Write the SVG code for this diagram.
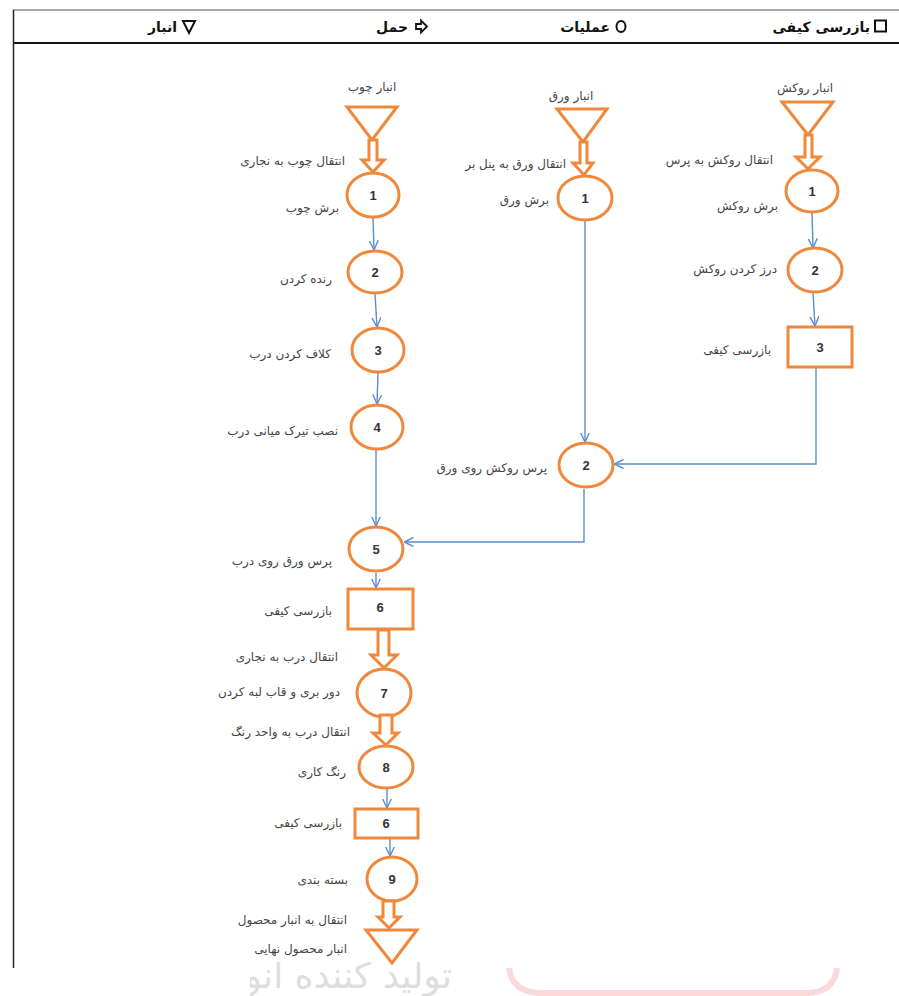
<svg xmlns="http://www.w3.org/2000/svg" width="899" height="996" viewBox="0 0 899 996">
<style>
.bg{fill:#ffffff}
.hd{font-family:"DejaVu Sans","Noto Sans",sans-serif;font-size:14px;font-weight:bold;fill:#111}
.lbl{font-family:"DejaVu Sans","Noto Sans",sans-serif;font-size:12px;fill:#444}
.num{font-family:"Liberation Sans","DejaVu Sans",sans-serif;font-size:13px;font-weight:bold;fill:#333;text-anchor:middle}
.op{fill:#fff;stroke:#F0883C;stroke-width:3}
.con{fill:none;stroke:#5B8DD3;stroke-width:1.4}
.wm{font-family:"DejaVu Sans","Noto Sans",sans-serif;font-size:36px;fill:#dedede}
</style>
<defs>
<marker id="ah" viewBox="0 0 10 10" refX="9.5" refY="5" markerWidth="10" markerHeight="10" markerUnits="userSpaceOnUse" orient="auto">
<path d="M0,0.5 L9.5,5 L0,9.5" fill="none" stroke="#5B8DD3" stroke-width="1.4"/>
</marker>
<clipPath id="wmclip"><rect x="250" y="962" width="210" height="34"/></clipPath>
</defs>
<rect class="bg" x="0" y="0" width="899" height="996"/>

<!-- watermark remnants -->
<g id="watermark">
<g clip-path="url(#wmclip)">
<text class="wm" x="452" y="988" text-anchor="end">تولید کننده انواع پروفیل</text>
</g>
<path d="M509 968 Q512 993 542 993 L806 993 Q834 993 837 968" fill="none" stroke="#FCD9D9" stroke-width="6"/>
</g>

<!-- header -->
<g id="header">
<line x1="13" y1="10" x2="899" y2="10" stroke="#555" stroke-width="1.2"/>
<line x1="13" y1="43" x2="899" y2="43" stroke="#111" stroke-width="2"/>
<line x1="13.5" y1="10" x2="13.5" y2="968" stroke="#222" stroke-width="1.5"/>
<text class="hd" x="177" y="32" text-anchor="end">انبار</text>
<path d="M183 21 L195 21 L189 33 Z" fill="none" stroke="#111" stroke-width="2"/>
<text class="hd" x="408" y="32" text-anchor="end">حمل</text>
<path d="M416 24 L421 24 L421 20.5 L427 26.5 L421 32.5 L421 29 L416 29 Z" fill="none" stroke="#111" stroke-width="1.8"/>
<text class="hd" x="610" y="32" text-anchor="end">عملیات</text>
<ellipse cx="621" cy="26.5" rx="4.5" ry="5.5" fill="none" stroke="#111" stroke-width="2"/>
<text class="hd" x="870" y="32" text-anchor="end">بازرسی کیفی</text>
<rect x="875" y="20.5" width="11" height="11" fill="none" stroke="#111" stroke-width="2"/>
</g>

<!-- connectors -->
<g id="connectors">
<line class="con" x1="373" y1="218" x2="374" y2="250" marker-end="url(#ah)"/>
<line class="con" x1="375" y1="294" x2="377" y2="327" marker-end="url(#ah)"/>
<line class="con" x1="378" y1="373" x2="377" y2="404" marker-end="url(#ah)"/>
<line class="con" x1="376" y1="450" x2="376" y2="526" marker-end="url(#ah)"/>
<line class="con" x1="585" y1="221" x2="585" y2="442" marker-end="url(#ah)"/>
<line class="con" x1="812" y1="213" x2="813" y2="248" marker-end="url(#ah)"/>
<line class="con" x1="813" y1="293" x2="815" y2="326" marker-end="url(#ah)"/>
<polyline class="con" points="816,368 816,464 614,464" marker-end="url(#ah)"/>
<polyline class="con" points="584,489 584,542 404,542" marker-end="url(#ah)"/>
<line class="con" x1="376" y1="573" x2="376" y2="588" marker-end="url(#ah)"/>
<line class="con" x1="387" y1="789" x2="387" y2="808" marker-end="url(#ah)"/>
<line class="con" x1="390" y1="839" x2="390" y2="856" marker-end="url(#ah)"/>
</g>

<!-- wood column -->
<g id="wood-store">
<text class="lbl" x="372" y="91" text-anchor="middle">انبار چوب</text>
<polygon class="op" points="347,107 397,107 372,140"/>
</g>
<g id="wood-move">
<path class="op" d="M369 140 L377 140 L377 160 L384 160 L373 172 L362 160 L369 160 Z"/>
<text class="lbl" x="345" y="165" text-anchor="end">انتقال چوب به نجاری</text>
</g>
<g id="wood-op1">
<ellipse class="op" cx="373" cy="195" rx="26" ry="22"/>
<text class="num" x="373" y="200">1</text>
<text class="lbl" x="339" y="212" text-anchor="end">برش چوب</text>
</g>
<g id="wood-op2">
<ellipse class="op" cx="375" cy="272" rx="27" ry="21"/>
<text class="num" x="375" y="277">2</text>
<text class="lbl" x="332" y="283" text-anchor="end">رنده کردن</text>
</g>
<g id="wood-op3">
<ellipse class="op" cx="378" cy="350" rx="26" ry="22"/>
<text class="num" x="378" y="355">3</text>
<text class="lbl" x="331" y="358" text-anchor="end">کلاف کردن درب</text>
</g>
<g id="wood-op4">
<ellipse class="op" cx="377" cy="427" rx="26" ry="22"/>
<text class="num" x="377" y="432">4</text>
<text class="lbl" x="338" y="435" text-anchor="end">نصب تیرک میانی درب</text>
</g>

<!-- sheet column -->
<g id="sheet-store">
<text class="lbl" x="571" y="100" text-anchor="middle">انبار ورق</text>
<polygon class="op" points="557,109 607,109 583,142"/>
</g>
<g id="sheet-move">
<path class="op" d="M580 142 L587 142 L587 163 L593 163 L584 175 L573 163 L580 163 Z"/>
<text class="lbl" x="566" y="168" text-anchor="end">انتقال ورق به پنل بر</text>
</g>
<g id="sheet-op1">
<ellipse class="op" cx="585" cy="198" rx="27" ry="22"/>
<text class="num" x="585" y="203">1</text>
<text class="lbl" x="549" y="204" text-anchor="end">برش ورق</text>
</g>
<g id="sheet-op2">
<ellipse class="op" cx="586" cy="465" rx="27" ry="22"/>
<text class="num" x="586" y="470">2</text>
<text class="lbl" x="547" y="472" text-anchor="end">پرس روکش روی ورق</text>
</g>

<!-- veneer column -->
<g id="veneer-store">
<text class="lbl" x="805" y="92" text-anchor="middle">انبار روکش</text>
<polygon class="op" points="782,102 833,102 808,135"/>
</g>
<g id="veneer-move">
<path class="op" d="M805 135 L812 135 L812 157 L820 157 L808 169 L796 157 L805 157 Z"/>
<text class="lbl" x="773" y="164" text-anchor="end">انتقال روکش به پرس</text>
</g>
<g id="veneer-op1">
<ellipse class="op" cx="812" cy="191" rx="26" ry="21"/>
<text class="num" x="812" y="196">1</text>
<text class="lbl" x="778" y="210" text-anchor="end">برش روکش</text>
</g>
<g id="veneer-op2">
<ellipse class="op" cx="815" cy="270" rx="27" ry="22"/>
<text class="num" x="815" y="275">2</text>
<text class="lbl" x="777" y="273" text-anchor="end">درز کردن روکش</text>
</g>
<g id="veneer-insp3">
<rect class="op" x="788" y="327" width="64" height="40"/>
<text class="num" x="820" y="352">3</text>
<text class="lbl" x="771" y="354" text-anchor="end">بازرسی کیفی</text>
</g>

<!-- door assembly -->
<g id="door-op5">
<ellipse class="op" cx="376" cy="549" rx="27" ry="22"/>
<text class="num" x="376" y="554">5</text>
<text class="lbl" x="332" y="565" text-anchor="end">پرس ورق روی درب</text>
</g>
<g id="door-insp6">
<rect class="op" x="348" y="589" width="65" height="40"/>
<text class="num" x="380" y="612">6</text>
<text class="lbl" x="332" y="615" text-anchor="end">بازرسی کیفی</text>
</g>
<g id="door-move1">
<path class="op" d="M378 630 L389 630 L389 655 L397 655 L384 668 L371 655 L378 655 Z"/>
<text class="lbl" x="338" y="661" text-anchor="end">انتقال درب به نجاری</text>
</g>
<g id="door-op7">
<ellipse class="op" cx="384" cy="693" rx="27" ry="24"/>
<text class="num" x="384" y="698">7</text>
<text class="lbl" x="340" y="696" text-anchor="end">دور بری و قاب لبه کردن</text>
</g>
<g id="door-move2">
<path class="op" d="M380 715 L392 715 L392 733 L398 733 L386 745 L373 733 L380 733 Z"/>
<text class="lbl" x="350" y="736" text-anchor="end">انتقال درب به واحد رنگ</text>
</g>
<g id="door-op8">
<ellipse class="op" cx="386" cy="767" rx="27" ry="21"/>
<text class="num" x="386" y="772">8</text>
<text class="lbl" x="346" y="776" text-anchor="end">رنگ کاری</text>
</g>
<g id="door-insp6b">
<rect class="op" x="355" y="809" width="63" height="29"/>
<text class="num" x="386" y="828">6</text>
<text class="lbl" x="342" y="827" text-anchor="end">بازرسی کیفی</text>
</g>
<g id="door-op9">
<ellipse class="op" cx="392" cy="879" rx="25" ry="22"/>
<text class="num" x="392" y="884">9</text>
<text class="lbl" x="348" y="884" text-anchor="end">بسته بندی</text>
</g>
<g id="door-move3">
<path class="op" d="M383 901 L394 901 L394 917 L400 917 L389 928 L378 917 L383 917 Z"/>
<text class="lbl" x="347" y="924" text-anchor="end">انتقال به انبار محصول</text>
</g>
<g id="final-store">
<polygon class="op" points="366,930 417,930 392,963"/>
<text class="lbl" x="347" y="953" text-anchor="end">انبار محصول نهایی</text>
</g>
</svg>
